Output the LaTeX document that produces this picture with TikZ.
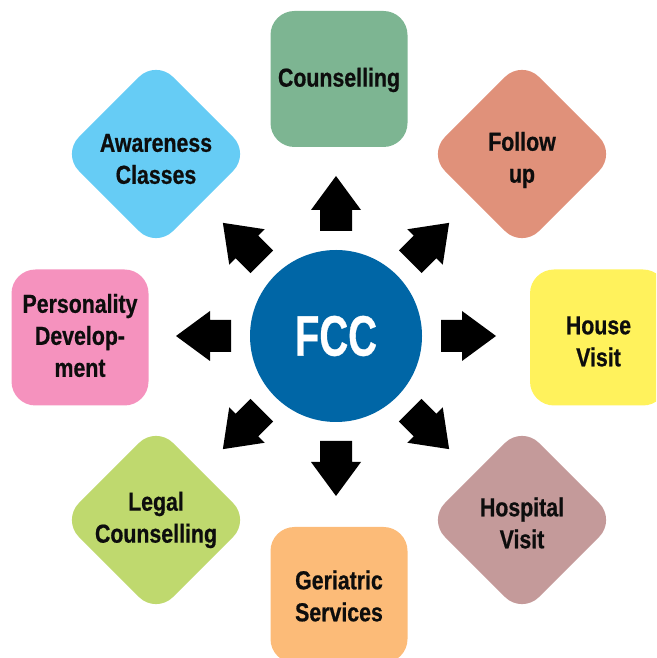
\documentclass[tikz,border=0pt]{standalone}
\usepackage{fontspec}
\setmainfont{Liberation Sans}
\newfontfamily\lblfont[FakeStretch=0.82,FakeBold=0.6]{Liberation Sans}
\newfontfamily\fccfont[FakeStretch=0.7,FakeBold=0.6]{Liberation Sans}
\definecolor{cFCC}{RGB}{0,102,166}
\definecolor{cCoun}{RGB}{125,181,146}
\definecolor{cFol}{RGB}{224,145,122}
\definecolor{cHouse}{RGB}{255,242,92}
\definecolor{cHosp}{RGB}{196,154,154}
\definecolor{cGer}{RGB}{252,187,120}
\definecolor{cLegal}{RGB}{191,217,110}
\definecolor{cPers}{RGB}{245,146,190}
\definecolor{cAware}{RGB}{102,204,245}
\definecolor{cText}{RGB}{13,13,13}
\begin{document}
\begin{tikzpicture}[x=1pt,y=1pt,
  box/.style={rectangle, rounded corners=24pt, minimum width=137pt, minimum height=136pt, inner sep=0pt},
  dbox/.style={rectangle, rounded corners=24pt, minimum size=133pt, rotate=45, inner sep=0pt},
  lbl/.style={font=\lblfont\bfseries\fontsize{26}{32}\selectfont, align=center, text=cText},
  blockarrow/.style={fill=black}]
\useasboundingbox (0,0) rectangle (656,658);
\clip (0,0) rectangle (656,658);
\node[circle, fill=cFCC, minimum size=172pt, inner sep=0pt, text=white,
      font=\fccfont\bfseries\fontsize{57}{60}\selectfont] (fcc) at (336,322) {FCC};
% square boxes
\node[box, fill=cCoun] (counbg) at (339,579) {};
\node[lbl] (coun) at ([yshift=-1pt]counbg.center) {Counselling};
\node[box, fill=cGer] (gerbg) at (339,63) {};
\node[lbl] (ger) at ([yshift=-1pt]gerbg.center) {Geriatric\\Services};
\node[box, fill=cHouse] (housebg) at (598.5,320.5) {};
\node[lbl] (house) at ([yshift=-4pt]housebg.center) {House\\Visit};
\node[box, fill=cPers] (persbg) at (80,320.5) {};
\node[lbl] (pers) at ([yshift=2pt]persbg.center) {Personality\\Develop-\\ment};
% diamond boxes
\node[dbox, fill=cFol] (folbg) at (522,504) {};
\node[lbl] (fol) at ([yshift=-6pt]folbg.center) {Follow\\up};
\node[dbox, fill=cAware] (awbg) at (156,504) {};
\node[lbl] (aw) at ([yshift=-5pt]awbg.center) {Awareness\\Classes};
\node[dbox, fill=cLegal] (legbg) at (156,138) {};
\node[lbl] (leg) at (legbg.center) {Legal\\Counselling};
\node[dbox, fill=cHosp] (hospbg) at (522,138) {};
\node[lbl] (hosp) at ([yshift=-3pt]hospbg.center) {Hospital\\Visit};
% block arrows
\foreach \a in {0,45,...,315}{
  \fill[blockarrow, shift={(fcc.center)}, rotate=\a]
    (105,-16) -- (126,-16) -- (126,-25) -- (160,0) -- (126,25) -- (126,16) -- (105,16) -- cycle;
}
\end{tikzpicture}
\end{document}
